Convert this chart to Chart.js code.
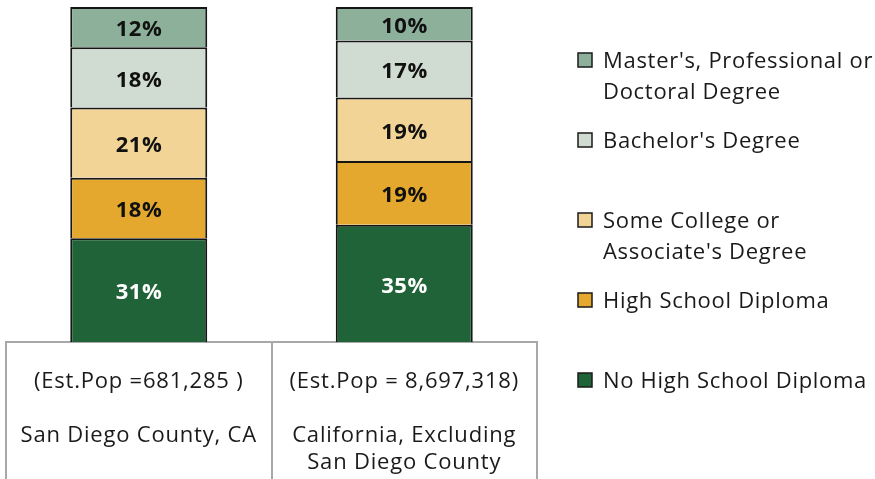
<!DOCTYPE html>
<html>
<head>
<meta charset="utf-8">
<script src="https://cdn.jsdelivr.net/npm/chart.js@4"></script>
<style>
  html, body { margin: 0; padding: 0; background: #ffffff; }
  #wrap { width: 875px; height: 479px; }
</style>
</head>
<body>
<div id="wrap"><canvas id="c" width="875" height="479"></canvas></div>
<script>
// ---- data ----
const categories = [
  ["(Est.Pop =681,285 )", "", "San Diego County, CA"],
  ["(Est.Pop = 8,697,318)", "", "California, Excluding", "San Diego County"]
];
const seriesNames = [
  "No High School Diploma",
  "High School Diploma",
  "Some College or Associate's Degree",
  "Bachelor's Degree",
  "Master's, Professional or Doctoral Degree"
];
const legendLines = [
  ["No High School Diploma"],
  ["High School Diploma"],
  ["Some College or", "Associate's Degree"],
  ["Bachelor's Degree"],
  ["Master's, Professional or", "Doctoral Degree"]
];
const noHighSchool   = [31, 35];
const highSchool     = [18, 19];
const someCollege    = [21, 19];
const bachelors      = [18, 17];
const mastersPlus    = [12, 10];
const seriesColors = ["#206339", "#E3A82D", "#F2D497", "#D0DBD1", "#8DB09A"];
const labelColors  = ["#ffffff", "#111111", "#111111", "#111111", "#111111"];

const seriesValues = [noHighSchool, highSchool, someCollege, bachelors, mastersPlus];
const FONT = "'Open Sans', 'Noto Sans', sans-serif";

const datasets = seriesValues.map((vals, i) => ({
  label: seriesNames[i],
  data: vals,
  backgroundColor: seriesColors[i],
  borderColor: "#151515",
  borderWidth: 2,
  barPercentage: 0.516,
  categoryPercentage: 1.0
}));

// slightly widened text, as in the reference rendering
const spacing = {
  id: 'spacing',
  beforeDraw(chart) {
    if ('letterSpacing' in chart.ctx) chart.ctx.letterSpacing = '0.8px';
  }
};

// value labels inside segments
const valueLabels = {
  id: 'valueLabels',
  afterDatasetsDraw(chart) {
    const ctx = chart.ctx;
    ctx.save();
    if ('letterSpacing' in ctx) ctx.letterSpacing = '0.6px';
    ctx.font = "bold 22px " + FONT;
    ctx.textAlign = 'center';
    ctx.textBaseline = 'middle';
    chart.data.datasets.forEach((ds, di) => {
      const meta = chart.getDatasetMeta(di);
      meta.data.forEach((el, idx) => {
        const p = el.getProps(['x', 'y', 'base'], true);
        ctx.fillStyle = labelColors[di];
        ctx.fillText(ds.data[idx] + '%', p.x + 0.3, (p.y + p.base) / 2 + 3);
      });
    });
    ctx.restore();
  }
};

// custom legend on the right
const sideLegend = {
  id: 'sideLegend',
  afterDraw(chart) {
    const ctx = chart.ctx;
    ctx.save();
    if ('letterSpacing' in ctx) ctx.letterSpacing = '0.7px';
    ctx.font = "22px " + FONT;
    ctx.textAlign = 'left';
    ctx.textBaseline = 'middle';
    const n = chart.data.datasets.length;
    for (let k = 0; k < n; k++) {
      const di = n - 1 - k;
      const cy = 60 + 80 * k;
      ctx.fillStyle = seriesColors[di];
      ctx.fillRect(578, cy - 7, 14, 14);
      ctx.strokeStyle = "#1a1a1a";
      ctx.lineWidth = 1.5;
      ctx.strokeRect(578, cy - 7, 14, 14);
      ctx.fillStyle = "#1a1a1a";
      legendLines[di].forEach((line, li) => {
        ctx.fillText(line, 603, cy + 2 + li * 30.5);
      });
    }
    ctx.restore();
  }
};

new Chart(document.getElementById('c'), {
  type: 'bar',
  data: { labels: categories, datasets },
  options: {
    responsive: false,
    animation: false,
    layout: { padding: { left: 6, right: 338, top: 7, bottom: 0 } },
    plugins: {
      legend: { display: false },
      tooltip: { enabled: false }
    },
    scales: {
      x: {
        stacked: true,
        offset: true,
        grid: {
          offset: true,
          drawOnChartArea: false,
          drawTicks: true,
          tickLength: 137,
          color: '#A8A8A8',
          lineWidth: 2
        },
        border: { display: true, color: '#A8A8A8', width: 2 },
        ticks: {
          autoSkip: false,
          maxRotation: 0,
          minRotation: 0,
          padding: -110.5,
          color: '#1a1a1a',
          font: { family: FONT, size: 22, lineHeight: '27px' }
        },
        afterFit(scale) { scale.height = 137; }
      },
      y: {
        stacked: true,
        display: false,
        min: 0,
        max: 100
      }
    }
  },
  plugins: [spacing, valueLabels, sideLegend]
});
</script>
</body>
</html>
